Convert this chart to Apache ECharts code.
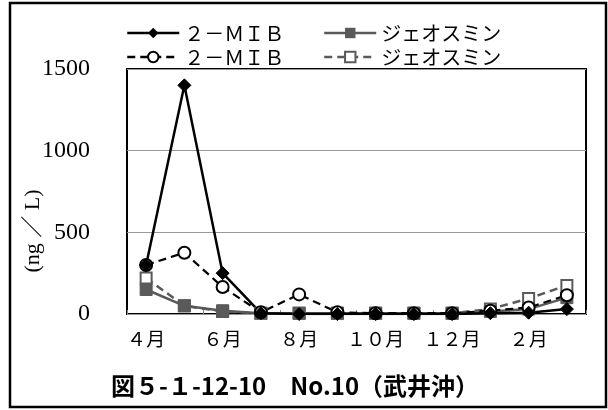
<!DOCTYPE html>
<html>
<head>
<meta charset="utf-8">
<script src="https://cdn.jsdelivr.net/npm/echarts@6/dist/echarts.min.js"></script>
<style>
  html, body { margin: 0; padding: 0; background: #fff; }
  #chart { width: 608px; height: 410px; }
</style>
</head>
<body>
<div id="chart"></div>
<script>
var months = ['４月', '５月', '６月', '７月', '８月', '９月', '１０月', '１１月', '１２月', '１月', '２月', '３月'];
var yTicks = [0, 500, 1000, 1500];
// 実線
var mibSolid = [300, 1400, 250, 5, 0, 0, 0, 0, 0, 5, 8, 30];
var geoSolid = [150, 50, 20, 5, 5, 5, 5, 5, 5, 15, 30, 100];
// 破線
var mibDash = [300, 375, 165, 10, 120, 10, 5, 5, 5, 20, 40, 115];
var geoDash = [220, 50, 15, 5, 5, 5, 5, 5, 5, 30, 95, 175];

var FONT = "'Liberation Serif', 'Noto Sans CJK JP', serif";
var CJK = "'Noto Sans CJK JP', sans-serif";
var GRAY = '#5a5a5a';

function legendAt(name, left, top) {
    return {
        data: [name],
        left: left,
        top: top,
        itemWidth: 52,
        itemHeight: 13,
        itemGap: 8,
        selectedMode: false,
        lineStyle: { width: 2.5 },
        formatter: function (n) { return n.split('#')[0]; },
        textStyle: { fontFamily: CJK, fontSize: 20, color: '#000' }
    };
}

function pageInit() {
    var myChart = echarts.init(document.getElementById('chart'));
    var option = {
        animation: false,
        backgroundColor: '#fff',
        grid: {
            left: 127, right: 22, top: 69, bottom: 96,
            show: true, borderColor: '#000', borderWidth: 2
        },
        title: {
            text: '図５-１-12-10　No.10（武井沖）',
            left: 106, top: 369,
            textStyle: { fontFamily: CJK, fontSize: 24, fontWeight: 'bold', color: '#000' }
        },
        legend: [
            legendAt('２－ＭＩＢ', 121, 18),
            legendAt('ジェオスミン', 318, 18),
            legendAt('２－ＭＩＢ#2', 121, 42),
            legendAt('ジェオスミン#2', 318, 42)
        ],
        graphic: [
            {
                type: 'rect',
                shape: { x: 10, y: 3, width: 596, height: 404 },
                style: { fill: 'none', stroke: '#000', lineWidth: 2.5 },
                silent: true
            },
            {
                type: 'text',
                x: 33, y: 231,
                rotation: Math.PI / 2,
                style: {
                    text: '(ng ／ L)',
                    fontFamily: FONT, fontSize: 22, fill: '#000',
                    align: 'center', verticalAlign: 'middle'
                },
                silent: true
            }
        ],
        xAxis: {
            type: 'category',
            data: months,
            boundaryGap: true,
            axisLine: { show: false },
            axisTick: { show: true, inside: true, length: 4, lineStyle: { color: '#888' } },
            axisLabel: { interval: 1, margin: 18, fontFamily: FONT, fontSize: 19, color: '#000' }
        },
        yAxis: {
            type: 'value',
            min: yTicks[0], max: yTicks[yTicks.length - 1], interval: 500,
            axisLine: { show: false },
            axisTick: { show: false },
            splitLine: { show: true, lineStyle: { color: '#999', width: 1 } },
            axisLabel: {
                margin: 37, fontFamily: FONT, fontSize: 24, color: '#000',
                formatter: function (v) { return String(v); }
            }
        },
        series: [
            {
                name: 'ジェオスミン#2', type: 'line', data: geoDash,
                symbol: 'rect', symbolSize: 11,
                lineStyle: { color: GRAY, width: 2.5, type: [8, 5] },
                itemStyle: { color: '#fff', borderColor: GRAY, borderWidth: 2 }
            },
            {
                name: 'ジェオスミン', type: 'line', data: geoSolid,
                symbol: 'rect', symbolSize: 12,
                lineStyle: { color: GRAY, width: 2.5 },
                itemStyle: { color: GRAY, borderColor: GRAY }
            },
            {
                name: '２－ＭＩＢ#2', type: 'line', data: mibDash,
                symbol: 'circle', symbolSize: 12,
                lineStyle: { color: '#000', width: 2.2, type: [8, 5] },
                itemStyle: { color: '#fff', borderColor: '#000', borderWidth: 2 }
            },
            {
                name: '２－ＭＩＢ', type: 'line', data: mibSolid,
                symbol: 'diamond', symbolSize: 13,
                lineStyle: { color: '#000', width: 2.5 },
                itemStyle: { color: '#000', borderColor: '#000' }
            }
        ]
    };
    myChart.setOption(option);
}

window.onload = function () {
    pageInit();
}
</script>
</body>
</html>
